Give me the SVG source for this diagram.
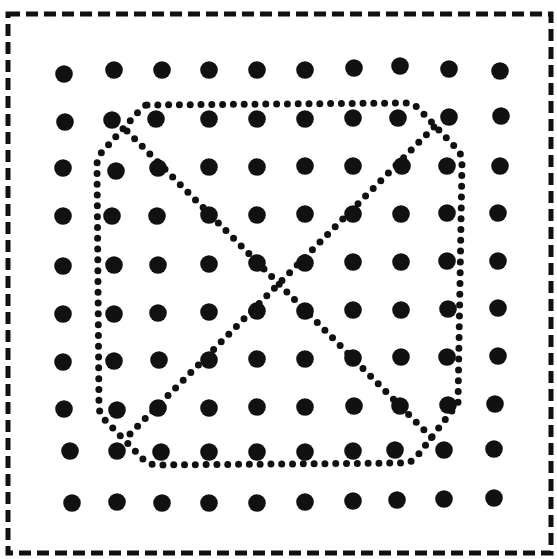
<svg xmlns="http://www.w3.org/2000/svg" width="557" height="559" viewBox="0 0 557 559">
<defs>
<style>
.border{fill:none;stroke:#111;stroke-width:5;stroke-dasharray:12 6}
.dotted{fill:none;stroke:#111;stroke-width:7;stroke-linecap:round;stroke-dasharray:0 10.8}
.pt{fill:#111}
</style>
<circle id="d" r="8.8" class="pt"/>
</defs>
<rect width="557" height="559" fill="#fff"/>
<rect class="border" x="8" y="14" width="543" height="539"/>
<g id="grid">
<use href="#d" x="64" y="74"/><use href="#d" x="114" y="70"/><use href="#d" x="162" y="70"/><use href="#d" x="209" y="70"/><use href="#d" x="257" y="70"/><use href="#d" x="305" y="70"/><use href="#d" x="354" y="68"/><use href="#d" x="400" y="66"/><use href="#d" x="449" y="69"/><use href="#d" x="500" y="71"/>
<use href="#d" x="65" y="122"/><use href="#d" x="112" y="120"/><use href="#d" x="156" y="119"/><use href="#d" x="209" y="119"/><use href="#d" x="257" y="119"/><use href="#d" x="305" y="119"/><use href="#d" x="353" y="118"/><use href="#d" x="398" y="118"/><use href="#d" x="449" y="117"/><use href="#d" x="501" y="116"/>
<use href="#d" x="63" y="168"/><use href="#d" x="116" y="171"/><use href="#d" x="158" y="168"/><use href="#d" x="209" y="167"/><use href="#d" x="257" y="167"/><use href="#d" x="305" y="166"/><use href="#d" x="353" y="166"/><use href="#d" x="402" y="166"/><use href="#d" x="447" y="166"/><use href="#d" x="500" y="166"/>
<use href="#d" x="63" y="216"/><use href="#d" x="112" y="216"/><use href="#d" x="157" y="216"/><use href="#d" x="209" y="215"/><use href="#d" x="257" y="215"/><use href="#d" x="305" y="214"/><use href="#d" x="353" y="214"/><use href="#d" x="401" y="214"/><use href="#d" x="447" y="213"/><use href="#d" x="498" y="213"/>
<use href="#d" x="63" y="266"/><use href="#d" x="114" y="265"/><use href="#d" x="158" y="265"/><use href="#d" x="209" y="264"/><use href="#d" x="257" y="263"/><use href="#d" x="305" y="263"/><use href="#d" x="353" y="262"/><use href="#d" x="401" y="262"/><use href="#d" x="447" y="261"/><use href="#d" x="498" y="261"/>
<use href="#d" x="63" y="314"/><use href="#d" x="114" y="314"/><use href="#d" x="158" y="313"/><use href="#d" x="209" y="312"/><use href="#d" x="257" y="311"/><use href="#d" x="305" y="311"/><use href="#d" x="353" y="310"/><use href="#d" x="401" y="310"/><use href="#d" x="448" y="309"/><use href="#d" x="498" y="308"/>
<use href="#d" x="63" y="362"/><use href="#d" x="114" y="361"/><use href="#d" x="159" y="360"/><use href="#d" x="209" y="360"/><use href="#d" x="257" y="359"/><use href="#d" x="305" y="359"/><use href="#d" x="353" y="358"/><use href="#d" x="401" y="357"/><use href="#d" x="447" y="357"/><use href="#d" x="498" y="356"/>
<use href="#d" x="64" y="409"/><use href="#d" x="117" y="410"/><use href="#d" x="158" y="408"/><use href="#d" x="209" y="408"/><use href="#d" x="257" y="407"/><use href="#d" x="305" y="407"/><use href="#d" x="354" y="406"/><use href="#d" x="400" y="406"/><use href="#d" x="448" y="405"/><use href="#d" x="495" y="404"/>
<use href="#d" x="70" y="451"/><use href="#d" x="117" y="451"/><use href="#d" x="161" y="452"/><use href="#d" x="209" y="452"/><use href="#d" x="257" y="452"/><use href="#d" x="305" y="452"/><use href="#d" x="353" y="451"/><use href="#d" x="395" y="450"/><use href="#d" x="444" y="450"/><use href="#d" x="494" y="449"/>
<use href="#d" x="72" y="503"/><use href="#d" x="117" y="502"/><use href="#d" x="162" y="503"/><use href="#d" x="209" y="503"/><use href="#d" x="257" y="503"/><use href="#d" x="305" y="502"/><use href="#d" x="353" y="501"/><use href="#d" x="397" y="500"/><use href="#d" x="444" y="499"/><use href="#d" x="494" y="498"/>
</g>
<g id="octagon">
<path class="dotted" d="M147,105 L405,103 Q413,103 419,109 L456,148 Q462,154 462,162 L458,403 L418,455 Q412,463 404,463 L158,465 Q150,465 144,460 L105,420 Q99,414 99,406 L97,165 Q97,158 102,152 L139,111 Q144,105 147,105 Z"/>
</g>
<g id="connectors">
<path class="dotted" d="M127,131 L436,442"/>
<path class="dotted" d="M434,127 L124,440"/>
</g>
</svg>
